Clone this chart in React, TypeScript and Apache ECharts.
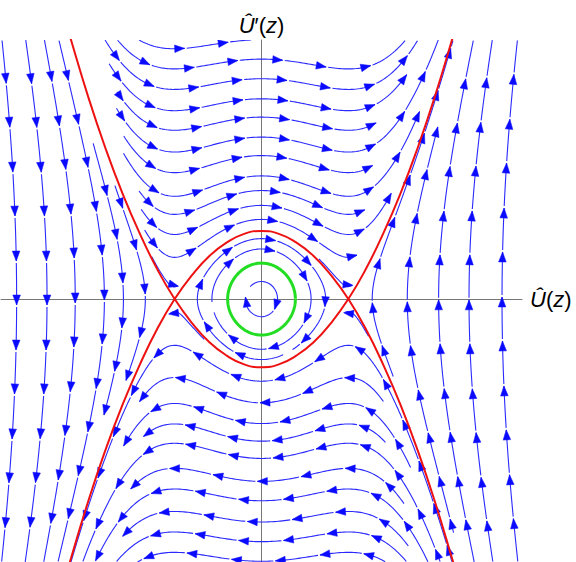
import React, { useEffect, useRef } from "react";
import * as echarts from "echarts";

// ---- axis ranges (data units) ----
const U_MIN = -3;
const U_MAX = 3;
const V_MIN = -2.74;
const V_MAX = 2.7;

// ---- system: U'' = LIN*U + CUB*U^3 ----
const LIN = -1;
const CUB = 1;

// ---- streamline seeds: arrow positions (data units) ----
const loopSeedU = [-0.13, -0.57, 0.25];
const loopSeedV = [0.13, -0.03, -0.58];
const topBandSeedU = [-0.44, -0.33, -0.28, -0.27, -0.25, -0.25, -0.28, -0.25, 0.16, 0.18, 0.13];
const topBandSeedV = [2.67, 2.48, 2.28, 2.07, 1.88, 1.67, 1.47, 1.26, 1.12, 0.96, 0.82];
const bottomBandSeedU = [0.21, 0.04, 0.27, 0.18, 0.19, 0.01, 0.31, 0.41, 0.31, 0.73];
const bottomBandSeedV = [-0.83, -1.08, -1.27, -1.47, -1.65, -1.9, -2.08, -2.29, -2.51, -2.66];
const leftSeedU = [-2.82, -2.47, -2.16, -1.84, -1.6, -1.39];
const leftSeedV = [-0.01, -0.01, 0.48, 0.51, 0.22, -0.35];
const rightSeedU = [1.28, 1.68, 2.04, 2.39, 2.77];
const rightSeedV = [-0.09, -0.08, -0.06, -0.06, -0.03];
const saddleSeedU = [-1.02, 0.99, -1.01, 1.01];
const saddleSeedV = [0.13, 0.13, -0.13, -0.13];

// ---- separatrix (red) ----
const sepU = [-2.3, -2.2, -2.0, -1.8, -1.6, -1.4, -1.2, -1.0, -0.8, -0.6, -0.4, -0.2, 0, 0.2, 0.4, 0.6, 0.8, 1.0, 1.2, 1.4, 1.6, 1.8, 2.0, 2.2, 2.3];
const sepV = [-3.03, -2.72, -2.12, -1.58, -1.1, -0.68, -0.31, 0, 0.25, 0.45, 0.59, 0.68, 0.71, 0.68, 0.59, 0.45, 0.25, 0, -0.31, -0.68, -1.1, -1.58, -2.12, -2.72, -3.03];

// ---- closed orbit (green): start point ----
const greenStartU = 0.39;
const greenStartV = 0;

// ---- layout / style constants ----
const CHART_W = 576;
const CHART_H = 562;
const GRID = { left: 1, right: 54, top: 40, bottom: 0 };
const SX = (CHART_W - GRID.left - GRID.right) / (U_MAX - U_MIN);
const SY = (CHART_H - GRID.top - GRID.bottom) / (V_MAX - V_MIN);
const DTEST = 10;
const SELF_GAP = 30;
const MAX_STEPS = 3000;
const SPACING = 44.5;
const ARROW_LEN = 10;
const ARROW_HW = 3.8;
const GAP = 2;
const BLUE_LINE = "#2a2aff";
const BLUE_ARROW = "#0a0aff";

type P = { x: number; y: number; s: number };

class PtGrid {
  m = new Map<string, P[]>();
  key(x: number, y: number) {
    return Math.floor(x / DTEST) + "," + Math.floor(y / DTEST);
  }
  add(x: number, y: number, s: number) {
    const k = this.key(x, y);
    let a = this.m.get(k);
    if (!a) {
      a = [];
      this.m.set(k, a);
    }
    a.push({ x, y, s });
  }
  near(x: number, y: number, r: number, pred: (p: P) => boolean) {
    const cx = Math.floor(x / DTEST);
    const cy = Math.floor(y / DTEST);
    const r2 = r * r;
    for (let i = -1; i <= 1; i++) {
      for (let j = -1; j <= 1; j++) {
        const a = this.m.get(cx + i + "," + (cy + j));
        if (!a) continue;
        for (const p of a) {
          const dx = p.x - x;
          const dy = p.y - y;
          if (dx * dx + dy * dy < r2 && pred(p)) return true;
        }
      }
    }
    return false;
  }
}

function accel(u: number) {
  return LIN * u + CUB * u * u * u;
}

function dirAt(u: number, v: number, sign: number): [number, number] | null {
  const du = v;
  const dv = accel(u);
  const n = Math.hypot(du * SX, dv * SY);
  if (n < 1e-9) return null;
  return [(sign * du) / n, (sign * dv) / n];
}

function rk4(u: number, v: number, sign: number, h: number): [number, number] | null {
  const k1 = dirAt(u, v, sign);
  if (!k1) return null;
  const k2 = dirAt(u + (h / 2) * k1[0], v + (h / 2) * k1[1], sign);
  if (!k2) return null;
  const k3 = dirAt(u + (h / 2) * k2[0], v + (h / 2) * k2[1], sign);
  if (!k3) return null;
  const k4 = dirAt(u + h * k3[0], v + h * k3[1], sign);
  if (!k4) return null;
  return [
    u + (h / 6) * (k1[0] + 2 * k2[0] + 2 * k3[0] + k4[0]),
    v + (h / 6) * (k1[1] + 2 * k2[1] + 2 * k3[1] + k4[1]),
  ];
}

const globalGrid = new PtGrid();

type Q = { u: number; v: number; s: number };

function traceDir(u0: number, v0: number, sign: number, own: PtGrid) {
  const pts: Q[] = [];
  let u = u0;
  let v = v0;
  let s = 0;
  for (let i = 0; i < MAX_STEPS; i++) {
    const nx = rk4(u, v, sign, 1);
    if (!nx) return { pts, reason: "stop" };
    u = nx[0];
    v = nx[1];
    s += 1;
    if (u < U_MIN || u > U_MAX || v < V_MIN || v > V_MAX) return { pts, reason: "edge" };
    const x = u * SX;
    const y = v * SY;
    const sa = sign * s;
    if (globalGrid.near(x, y, DTEST, () => true)) return { pts, reason: "hit" };
    if (own.near(x, y, DTEST, (p) => Math.abs(p.s - sa) > SELF_GAP)) return { pts, reason: "self" };
    pts.push({ u, v, s: sa });
    own.add(x, y, sa);
  }
  return { pts, reason: "stop" };
}

type Line = { segments: number[][][]; arrows: number[][][] };

function buildLine(u0: number, v0: number): Line | null {
  const x0 = u0 * SX;
  const y0 = v0 * SY;
  if (globalGrid.near(x0, y0, DTEST * 0.7, () => true)) return null;
  const own = new PtGrid();
  own.add(x0, y0, 0);
  const f = traceDir(u0, v0, 1, own);
  const b = traceDir(u0, v0, -1, own);
  const sEnd = f.pts.length ? f.pts[f.pts.length - 1].s : 0;
  let sMax = sEnd;
  if (f.reason === "hit") {
    const k = Math.floor((sEnd - ARROW_LEN / 2) / SPACING);
    if (k >= 0) sMax = k * SPACING + ARROW_LEN / 2;
  }
  const all: Q[] = [...b.pts.slice().reverse(), { u: u0, v: v0, s: 0 }, ...f.pts.filter((p) => p.s <= Math.ceil(sMax))];
  if (all.length < 4) return null;
  const sMin = all[0].s;
  const sTop = all[all.length - 1].s;
  for (const p of all) globalGrid.add(p.u * SX, p.v * SY, 0);
  const at = (s: number) => {
    const i = Math.max(0, Math.min(all.length - 1, Math.round(s - sMin)));
    return [all[i].u, all[i].v];
  };
  const arrows: number[][][] = [];
  const tips: number[] = [];
  const kLo = Math.ceil((sMin + ARROW_LEN / 2) / SPACING);
  const kHi = Math.floor((sTop - ARROW_LEN / 2) / SPACING);
  for (let k = kLo; k <= kHi; k++) {
    const c = k * SPACING;
    arrows.push([at(c + ARROW_LEN / 2), at(c - ARROW_LEN / 2)]);
    tips.push(c + ARROW_LEN / 2);
  }
  const segments: number[][][] = [];
  let start = sMin;
  const cuts = [...tips, sTop];
  for (const c of cuts) {
    const seg: number[][] = [];
    for (let s = start; s <= c; s += 2) seg.push(at(s));
    seg.push(at(c));
    if (seg.length >= 2) segments.push(seg);
    start = c + GAP;
  }
  return { segments, arrows };
}

const seedGroups: [number[], number[]][] = [
  [loopSeedU, loopSeedV],
  [topBandSeedU, topBandSeedV],
  [bottomBandSeedU, bottomBandSeedV],
  [leftSeedU, leftSeedV],
  [rightSeedU, rightSeedV],
  [saddleSeedU, saddleSeedV],
];

const LINES: Line[] = [];
for (const [us, vs] of seedGroups) {
  for (let i = 0; i < us.length; i++) {
    const l = buildLine(us[i], vs[i]);
    if (l) LINES.push(l);
  }
}

// green closed orbit
function closedOrbit(u0: number, v0: number) {
  const pts: number[][] = [[u0, v0]];
  let u = u0;
  let v = v0;
  for (let i = 1; i < 2000; i++) {
    const nx = rk4(u, v, 1, 0.5);
    if (!nx) break;
    u = nx[0];
    v = nx[1];
    pts.push([u, v]);
    if (i > 40 && Math.hypot((u - u0) * SX, (v - v0) * SY) < 0.6) break;
  }
  pts.push([u0, v0]);
  return pts;
}
const greenData = closedOrbit(greenStartU, greenStartV);

const upperBranch = sepU.map((u, i) => [u, sepV[i]]);
const lowerBranch = sepU.map((u, i) => [u, -sepV[i]]);

const labelRich = {
  i: { fontStyle: "italic", fontSize: 22, fontFamily: "Liberation Sans", color: "#000" },
  n: { fontSize: 22, fontFamily: "Liberation Sans", color: "#000" },
};

const option: any = {
  animation: false,
  backgroundColor: "#fff",
  grid: { ...GRID, containLabel: false },
  xAxis: {
    type: "value",
    min: U_MIN,
    max: U_MAX,
    name: "{i|Û}{n|(}{i|z}{n|)}",
    nameLocation: "end",
    nameGap: 8,
    nameTextStyle: { rich: labelRich, fontSize: 22 },
    axisLine: { show: true, onZero: true, lineStyle: { color: "#777", width: 1 } },
    axisTick: { show: false },
    axisLabel: { show: false },
    splitLine: { show: false },
  },
  yAxis: {
    type: "value",
    min: V_MIN,
    max: V_MAX,
    name: "{i|Û}{n|′(}{i|z}{n|)}",
    nameLocation: "end",
    nameGap: 4,
    nameTextStyle: { rich: labelRich, fontSize: 22 },
    axisLine: { show: true, onZero: true, lineStyle: { color: "#777", width: 1 } },
    axisTick: { show: false },
    axisLabel: { show: false },
    splitLine: { show: false },
  },
  series: [
    {
      type: "custom",
      coordinateSystem: "cartesian2d",
      clip: true,
      silent: true,
      z: 2,
      data: LINES.map(() => [0, 0]),
      renderItem: (params: any, api: any) => {
        const line = LINES[params.dataIndex];
        const children: any[] = [];
        for (const seg of line.segments) {
          children.push({
            type: "polyline",
            shape: { points: seg.map((p) => api.coord(p)) },
            style: { stroke: BLUE_LINE, lineWidth: 1.1, fill: "none" },
          });
        }
        for (const a of line.arrows) {
          const T = api.coord(a[0]);
          const B = api.coord(a[1]);
          const dx = T[0] - B[0];
          const dy = T[1] - B[1];
          const L = Math.hypot(dx, dy) || 1;
          const ux = dx / L;
          const uy = dy / L;
          const tip = [B[0] + ux * ARROW_LEN, B[1] + uy * ARROW_LEN];
          const nx = -uy * ARROW_HW;
          const ny = ux * ARROW_HW;
          children.push({
            type: "polygon",
            shape: { points: [tip, [B[0] + nx, B[1] + ny], [B[0] - nx, B[1] - ny]] },
            style: { fill: BLUE_ARROW, stroke: BLUE_ARROW, lineWidth: 0.5 },
          });
        }
        return { type: "group", children };
      },
    },
    {
      type: "line",
      data: upperBranch,
      smooth: true,
      showSymbol: false,
      symbol: "none",
      z: 4,
      lineStyle: { color: "#ee1111", width: 2 },
    },
    {
      type: "line",
      data: lowerBranch,
      smooth: true,
      showSymbol: false,
      symbol: "none",
      z: 4,
      lineStyle: { color: "#ee1111", width: 2 },
    },
    {
      type: "line",
      data: greenData,
      showSymbol: false,
      symbol: "none",
      z: 5,
      lineStyle: { color: "#22dd22", width: 3 },
    },
  ],
};

export default function App() {
  const ref = useRef<HTMLDivElement>(null);
  useEffect(() => {
    if (!ref.current) return;
    const chart = echarts.init(ref.current, undefined, { renderer: "svg" });
    chart.setOption(option);
    return () => chart.dispose();
  }, []);
  return (
    <div
      ref={ref}
      style={{ position: "fixed", left: 0, top: 0, width: CHART_W, height: CHART_H, background: "#fff" }}
    />
  );
}
